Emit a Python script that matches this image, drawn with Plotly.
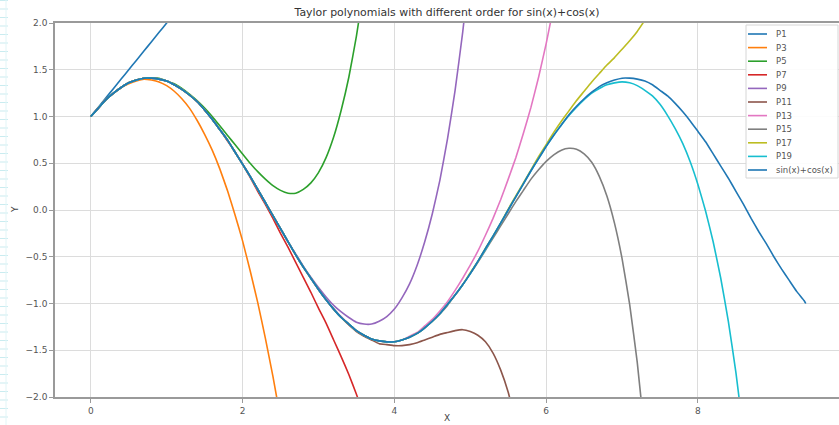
import plotly.graph_objects as go

# x grid (0 .. 3*pi)
X = [0.0, 0.1, 0.2, 0.3, 0.4, 0.5, 0.6, 0.7, 0.8, 0.9,
     1.0, 1.1, 1.2, 1.3, 1.4, 1.5, 1.6, 1.7, 1.8, 1.9,
     2.0, 2.1, 2.2, 2.3, 2.4, 2.5, 2.6, 2.7, 2.8, 2.9,
     3.0, 3.1, 3.2, 3.3, 3.4, 3.5, 3.6, 3.7, 3.8, 3.9,
     4.0, 4.1, 4.2, 4.3, 4.4, 4.5, 4.6, 4.7, 4.8, 4.9,
     5.0, 5.1, 5.2, 5.3, 5.4, 5.5, 5.6, 5.7, 5.8, 5.9,
     6.0, 6.1, 6.2, 6.3, 6.4, 6.5, 6.6, 6.7, 6.8, 6.9,
     7.0, 7.1, 7.2, 7.3, 7.4, 7.5, 7.6, 7.7, 7.8, 7.9,
     8.0, 8.1, 8.2, 8.3, 8.4, 8.5, 8.6, 8.7, 8.8, 8.9,
     9.0, 9.1, 9.2, 9.3, 9.4, 9.42]

P1 = [1.0, 1.1, 1.2, 1.3, 1.4, 1.5, 1.6, 1.7, 1.8, 1.9, 2.0, 2.1]

P3 = [1.0, 1.09, 1.18, 1.25, 1.31, 1.35, 1.38, 1.4, 1.39, 1.37,
      1.33, 1.27, 1.19, 1.09, 0.96, 0.81, 0.64, 0.44, 0.21, -0.05,
      -0.33, -0.65, -0.99, -1.37, -1.78, -2.23]

P5 = [1.0, 1.09, 1.18, 1.25, 1.31, 1.36, 1.39, 1.41, 1.41, 1.41,
      1.38, 1.35, 1.30, 1.24, 1.17, 1.09, 1.00, 0.90, 0.80, 0.70,
      0.60, 0.50, 0.41, 0.33, 0.26, 0.21, 0.18, 0.18, 0.22, 0.29,
      0.40, 0.56, 0.78, 1.07, 1.42, 1.86, 2.38]

P7 = [1.0, 1.09, 1.18, 1.25, 1.31, 1.36, 1.39, 1.41, 1.41, 1.4,
      1.38, 1.34, 1.29, 1.23, 1.16, 1.07, 0.97, 0.86, 0.74, 0.62,
      0.49, 0.35, 0.20, 0.06, -0.09, -0.25, -0.40, -0.56, -0.72, -0.88,
      -1.05, -1.21, -1.39, -1.57, -1.76, -1.97, -2.20]

P9 = [1.0, 1.09, 1.18, 1.25, 1.31, 1.36, 1.39, 1.41, 1.41, 1.4,
      1.38, 1.34, 1.29, 1.23, 1.16, 1.07, 0.97, 0.86, 0.75, 0.62,
      0.49, 0.36, 0.22, 0.08, -0.06, -0.2, -0.34, -0.47, -0.60, -0.72,
      -0.83, -0.93, -1.02, -1.09, -1.15, -1.20, -1.22, -1.22, -1.19, -1.14,
      -1.06, -0.94, -0.79, -0.59, -0.34, -0.04, 0.32, 0.76, 1.28, 1.90,
      2.62]

P11 = [1.0, 1.09, 1.18, 1.25, 1.31, 1.36, 1.39, 1.41, 1.41, 1.4,
       1.38, 1.34, 1.29, 1.23, 1.16, 1.07, 0.97, 0.86, 0.75, 0.62,
       0.49, 0.36, 0.22, 0.08, -0.06, -0.2, -0.34, -0.48, -0.61, -0.73,
       -0.85, -0.96, -1.06, -1.15, -1.23, -1.30, -1.35, -1.39, -1.43, -1.44,
       -1.45, -1.45, -1.44, -1.42, -1.39, -1.36, -1.33, -1.31, -1.29, -1.28,
       -1.30, -1.34, -1.41, -1.53, -1.71, -1.95, -2.28]

P13 = [1.0, 1.09, 1.18, 1.25, 1.31, 1.36, 1.39, 1.41, 1.41, 1.4,
       1.38, 1.34, 1.29, 1.23, 1.16, 1.07, 0.97, 0.86, 0.75, 0.62,
       0.49, 0.36, 0.22, 0.08, -0.06, -0.2, -0.34, -0.48, -0.61, -0.73,
       -0.85, -0.96, -1.06, -1.14, -1.22, -1.29, -1.34, -1.38, -1.40, -1.41,
       -1.41, -1.39, -1.35, -1.31, -1.24, -1.17, -1.08, -0.98, -0.86, -0.73,
       -0.59, -0.44, -0.27, -0.09, 0.11, 0.33, 0.56, 0.82, 1.10, 1.42,
       1.78, 2.18]

P15 = [1.0, 1.09, 1.18, 1.25, 1.31, 1.36, 1.39, 1.41, 1.41, 1.4,
       1.38, 1.34, 1.29, 1.23, 1.16, 1.07, 0.97, 0.86, 0.75, 0.62,
       0.49, 0.36, 0.22, 0.08, -0.06, -0.2, -0.34, -0.48, -0.61, -0.73,
       -0.85, -0.96, -1.06, -1.15, -1.22, -1.29, -1.34, -1.38, -1.4, -1.41,
       -1.41, -1.39, -1.36, -1.32, -1.26, -1.19, -1.11, -1.02, -0.91, -0.80,
       -0.68, -0.56, -0.43, -0.30, -0.17, -0.04, 0.09, 0.21, 0.33, 0.43,
       0.52, 0.59, 0.64, 0.66, 0.65, 0.60, 0.51, 0.36, 0.15, -0.14,
       -0.52, -1.01, -1.63, -2.41]

P17 = [1.0, 1.09, 1.18, 1.25, 1.31, 1.36, 1.39, 1.41, 1.41, 1.4,
       1.38, 1.34, 1.29, 1.23, 1.16, 1.07, 0.97, 0.86, 0.75, 0.62,
       0.49, 0.36, 0.22, 0.08, -0.06, -0.2, -0.34, -0.48, -0.61, -0.73,
       -0.85, -0.96, -1.06, -1.15, -1.22, -1.29, -1.34, -1.38, -1.4, -1.41,
       -1.41, -1.39, -1.36, -1.32, -1.26, -1.19, -1.11, -1.01, -0.91, -0.8,
       -0.67, -0.55, -0.41, -0.28, -0.14, 0.01, 0.15, 0.29, 0.43, 0.57,
       0.70, 0.83, 0.95, 1.06, 1.17, 1.27, 1.37, 1.46, 1.55, 1.63,
       1.72, 1.81, 1.91, 2.03]

P19 = [1.0, 1.09, 1.18, 1.25, 1.31, 1.36, 1.39, 1.41, 1.41, 1.4,
       1.38, 1.34, 1.29, 1.23, 1.16, 1.07, 0.97, 0.86, 0.75, 0.62,
       0.49, 0.36, 0.22, 0.08, -0.06, -0.2, -0.34, -0.48, -0.61, -0.73,
       -0.85, -0.96, -1.06, -1.15, -1.22, -1.29, -1.34, -1.38, -1.4, -1.41,
       -1.41, -1.39, -1.36, -1.32, -1.26, -1.19, -1.11, -1.01, -0.91, -0.8,
       -0.68, -0.55, -0.42, -0.28, -0.14, 0.00, 0.14, 0.28, 0.42, 0.55,
       0.68, 0.80, 0.91, 1.01, 1.10, 1.18, 1.25, 1.30, 1.34, 1.36,
       1.37, 1.36, 1.33, 1.28, 1.22, 1.13, 1.01, 0.87, 0.71, 0.51,
       0.27, -0.01, -0.34, -0.73, -1.19, -1.74, -2.39]

F = [1.0, 1.09, 1.18, 1.25, 1.31, 1.36, 1.39, 1.41, 1.41, 1.4,
     1.38, 1.34, 1.29, 1.23, 1.16, 1.07, 0.97, 0.86, 0.75, 0.62,
     0.49, 0.36, 0.22, 0.08, -0.06, -0.2, -0.34, -0.48, -0.61, -0.73,
     -0.85, -0.96, -1.06, -1.15, -1.22, -1.29, -1.34, -1.38, -1.4, -1.41,
     -1.41, -1.39, -1.36, -1.32, -1.26, -1.19, -1.11, -1.01, -0.91, -0.8,
     -0.68, -0.55, -0.41, -0.28, -0.14, 0.0, 0.14, 0.28, 0.42, 0.55,
     0.68, 0.8, 0.91, 1.02, 1.11, 1.19, 1.26, 1.32, 1.36, 1.39,
     1.41, 1.41, 1.4, 1.38, 1.34, 1.28, 1.22, 1.14, 1.05, 0.95,
     0.84, 0.73, 0.6, 0.47, 0.34, 0.2, 0.06, -0.09, -0.23, -0.36,
     -0.5, -0.63, -0.75, -0.87, -0.97, -1.0]

NAMES = ["P1", "P3", "P5", "P7", "P9", "P11", "P13", "P15", "P17", "P19", "sin(x)+cos(x)"]
SERIES = [P1, P3, P5, P7, P9, P11, P13, P15, P17, P19, F]
COLORS = ["#1f77b4", "#ff7f0e", "#2ca02c", "#d62728", "#9467bd", "#8c564b",
          "#e377c2", "#7f7f7f", "#bcbd22", "#17becf", "#1f77b4"]
Y_TICKS = [-2.0, -1.5, -1.0, -0.5, 0.0, 0.5, 1.0, 1.5, 2.0]
X_TICKS = [0, 2, 4, 6, 8]
TITLE = "Taylor polynomials with different order for sin(x)+cos(x)"

# plot area: left 55px, top 23px, bottom 397px, extends to the right edge
L, T, B, W, H = 55, 23, 397, 839, 425
PH = B - T
PW = W - L


def px_x(p):
    return (p - L) / PW


def px_y(p):
    return (B - p) / PH


fig = go.Figure()
for name, ys, c in zip(NAMES, SERIES, COLORS):
    fig.add_trace(go.Scatter(x=X[:len(ys)], y=ys, mode="lines", name=name,
                             showlegend=False,
                             line=dict(color=c, width=1.6, shape="spline", smoothing=0.4)))

shapes = [
    # ruler-like strip at the left edge of the screenshot
    dict(type="line", xref="paper", yref="paper", x0=px_x(4), x1=px_x(4),
         y0=px_y(0), y1=px_y(H), line=dict(color="#c9ecf0", width=8, dash="1px,7.5px")),
    dict(type="line", xref="paper", yref="paper", x0=px_x(6), x1=px_x(6),
         y0=px_y(0), y1=px_y(H), line=dict(color="#e2f5f7", width=1)),
    # legend frame
    dict(type="rect", xref="paper", yref="paper", x0=px_x(746), x1=px_x(838),
         y0=px_y(178), y1=px_y(25), line=dict(color="#d6d6d6", width=1),
         fillcolor="rgba(255,255,255,0.9)", layer="above"),
]
annotations = [
    dict(text="X", x=0.5, y=px_y(418), xref="paper", yref="paper",
         showarrow=False, font=dict(size=9, color="#444"), yanchor="middle"),
    dict(text="Y", x=px_x(15), y=px_y(210), xref="paper", yref="paper",
         showarrow=False, textangle=-90, font=dict(size=9, color="#444"),
         xanchor="center", yanchor="middle"),
]
for i, (name, c) in enumerate(zip(NAMES, COLORS)):
    ry = 34 + 13.6 * i
    shapes.append(dict(type="line", xref="paper", yref="paper",
                       x0=px_x(748), x1=px_x(767), y0=px_y(ry), y1=px_y(ry),
                       line=dict(color=c, width=1.6), layer="above"))
    annotations.append(dict(text=name, x=px_x(774), y=px_y(ry), xref="paper", yref="paper",
                            xanchor="left", yanchor="middle", showarrow=False,
                            font=dict(size=8.5, color="#555")))

fig.update_layout(
    width=W, height=H,
    margin=dict(l=L, r=0, t=T, b=H - B),
    paper_bgcolor="white", plot_bgcolor="white",
    font=dict(family="DejaVu Sans", color="#444"),
    showlegend=False,
    title=dict(text=TITLE, x=0.5, xref="paper", xanchor="center",
               y=1 - 12 / H, yanchor="middle", font=dict(size=10.9, color="#333")),
    annotations=annotations,
    shapes=shapes,
)
fig.update_xaxes(range=[-0.4712, 9.858], tickvals=X_TICKS, showgrid=True,
                 gridcolor="#dcdcdc", gridwidth=1, showline=True, linecolor="#9a9a9a",
                 linewidth=1.5, mirror=True, ticks="outside", ticklen=4,
                 tickcolor="#9a9a9a", tickfont=dict(size=9, color="#555"), zeroline=False)
fig.update_yaxes(range=[-2, 2], tickvals=Y_TICKS, tickformat=".1f", showgrid=True,
                 gridcolor="#dcdcdc", gridwidth=1, showline=True, linecolor="#9a9a9a",
                 linewidth=1.5, ticks="outside", ticklen=4, tickcolor="#9a9a9a",
                 tickfont=dict(size=9, color="#555"), zeroline=False)
fig.write_html("out.html", config={"displayModeBar": False},
               post_script="document.body.style.margin='0';document.body.style.padding='0';")
